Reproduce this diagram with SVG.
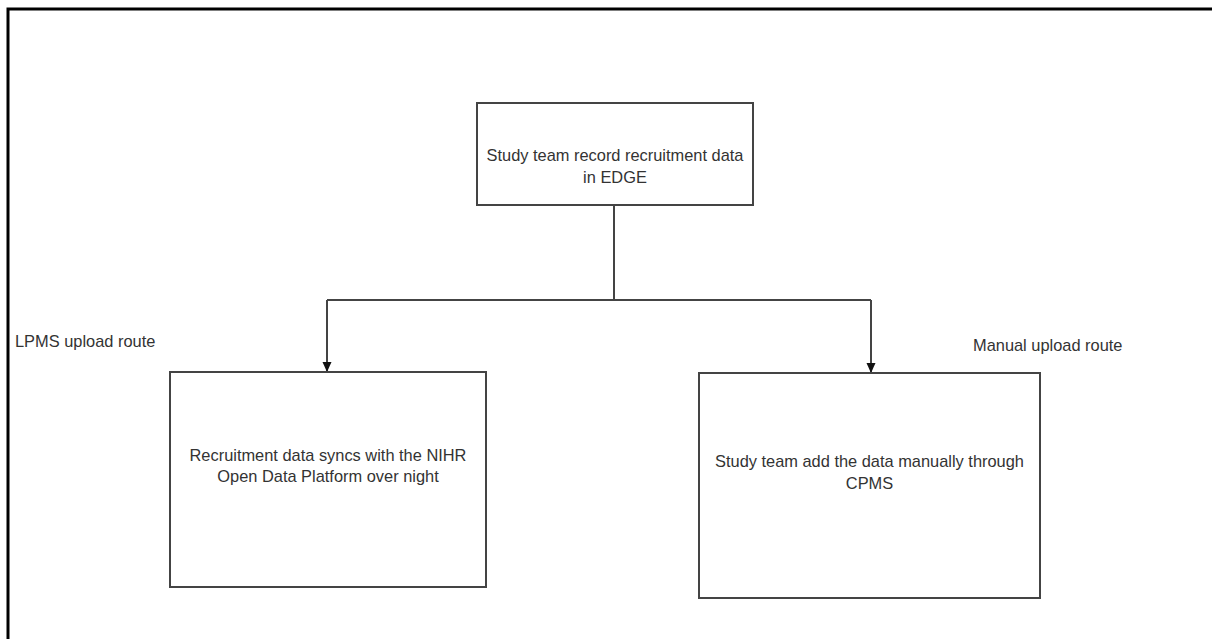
<svg xmlns="http://www.w3.org/2000/svg" width="1212" height="639" viewBox="0 0 1212 639">
<style>
.box{fill:#ffffff;stroke:#444444;stroke-width:2}
.lbl{font-family:"Liberation Sans",Arial,sans-serif;font-size:16.4px;fill:#333333}
.c{text-anchor:middle}
.conn{fill:none;stroke:#444444;stroke-width:2}
</style>
<defs>
<marker id="arr" markerWidth="10" markerHeight="10" refX="9" refY="5" orient="auto" markerUnits="userSpaceOnUse">
<path d="M0,0.5 L10,5 L0,9.5 Z" fill="#111111"/>
</marker>
</defs>
<rect x="0" y="0" width="1212" height="639" fill="#ffffff"/>
<path d="M8,640 L8,9 L1213,9" fill="none" stroke="#000000" stroke-width="3"/>
<g id="connectors">
<path class="conn" d="M614,205 L614,300"/>
<path class="conn" d="M327,300 L871,300"/>
<path class="conn" d="M327,300 L327,371" marker-end="url(#arr)"/>
<path class="conn" d="M871,300 L871,372" marker-end="url(#arr)"/>
</g>
<g id="node-edge">
<rect class="box" x="477" y="103" width="276" height="102"/>
<text class="lbl c" x="615" y="161">Study team record recruitment data</text>
<text class="lbl c" x="615" y="183">in EDGE</text>
</g>
<g id="node-lpms">
<rect class="box" x="170" y="372" width="316" height="215"/>
<text class="lbl c" x="328" y="461">Recruitment data syncs with the NIHR</text>
<text class="lbl c" x="328" y="482">Open Data Platform over night</text>
</g>
<g id="node-manual">
<rect class="box" x="699" y="373" width="341" height="225"/>
<text class="lbl c" x="869.5" y="467">Study team add the data manually through</text>
<text class="lbl c" x="869.5" y="489">CPMS</text>
</g>
<g id="label-lpms">
<text class="lbl" x="15" y="347">LPMS upload route</text>
</g>
<g id="label-manual">
<text class="lbl" x="973" y="351">Manual upload route</text>
</g>
</svg>
